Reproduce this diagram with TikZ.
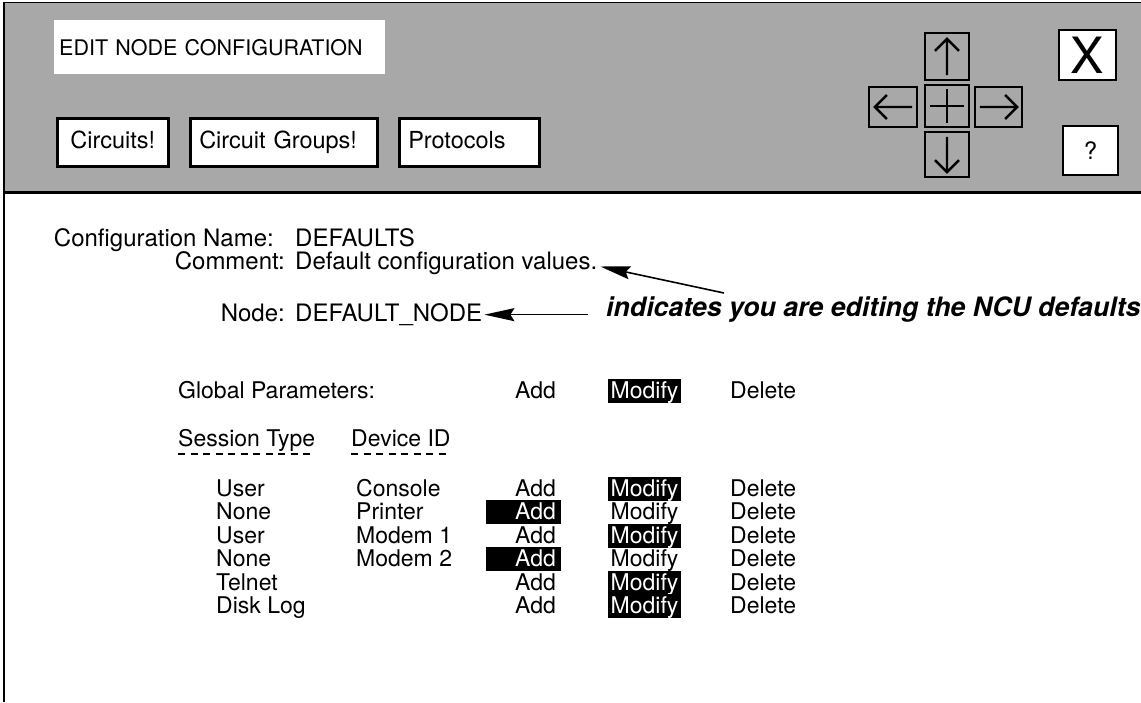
\documentclass[tikz,border=0pt]{standalone}
\usepackage{fontspec}
\setmainfont{TeX Gyre Heros}
\usetikzlibrary{arrows.meta}
\definecolor{panelgray}{RGB}{168,168,168}
\newcommand\ttlfont{\fontsize{21.5pt}{21.5pt}\selectfont}
\newcommand\btnfont{\fontsize{23.5pt}{23.5pt}\selectfont}
\newcommand\cfgfont{\fontsize{24pt}{24pt}\selectfont}
\newcommand\tblfont{\fontsize{23pt}{23pt}\selectfont}
\newcommand\notefont{\fontsize{26.7pt}{26.7pt}\selectfont\bfseries\itshape}
\begin{document}
\begin{tikzpicture}[x=1pt,y=-1pt,
  btn/.style={draw, line width=2.5pt, fill=white, anchor=north west,
    inner ysep=0pt, inner xsep=9pt, minimum height=48pt, align=left,
    text height=17pt, text depth=5pt, font=\btnfont},
  navbox/.style={draw, line width=2.2pt, inner sep=0pt},
  navmark/.style={line width=2.4pt},
  lbl/.style={anchor=base east, inner sep=0pt, font=\cfgfont},
  val/.style={anchor=base west, inner sep=0pt, font=\cfgfont},
  cell/.style={anchor=base west, inner xsep=0pt, inner ysep=2pt,
    text height=17.5pt, text depth=2.5pt, font=\tblfont},
  addcell/.style={cell, anchor=base east, text width=65pt, align=right, inner xsep=5pt},
  modcell/.style={cell, inner xsep=2.5pt},
  hl/.style={fill=black, text=white},
  ptr/.style={line width=1.6pt, -{Stealth[length=30pt,width=13pt,inset=4pt]}},
  dashrule/.style={line width=1.3pt, dash pattern=on 7pt off 5.5pt}
]
\useasboundingbox (0,0) rectangle (1141,702);

% header panel
\fill[panelgray] (4,2) rectangle (1141,192);
\draw[line width=1pt] (4,2) -- (1141,2);
\draw[line width=3pt] (4,192) -- (1141,192);
\draw[line width=1.5pt] (4,2) -- (4,702);

% window title
\node[fill=white, anchor=north west, minimum width=331pt, minimum height=54pt,
  inner xsep=5pt, text width=321pt, align=left, font=\ttlfont] (title) at (54,20)
  {EDIT NODE CONFIGURATION};

% menu buttons
\node[btn, text width=93pt, align=center] (circ) at (56,117) {Circuits!};
\node[btn, text width=169pt] (cgrp) at (189,117) {Circuit Groups!};
\node[btn, text width=122pt] (prot) at (398,117) {Protocols};

% navigation pad
\node[navbox, minimum width=44pt, minimum height=47pt] (up) at (947,56.5) {};
\node[navbox, minimum width=44pt, minimum height=42pt] (ctr) at (947,106) {};
\node[navbox, minimum width=48pt, minimum height=40pt] (lft) at (893,107) {};
\node[navbox, minimum width=47pt, minimum height=40pt] (rgt) at (998.5,107) {};
\node[navbox, minimum width=44pt, minimum height=45pt] (dwn) at (947,154.5) {};

\draw[navmark] ([yshift=6pt]up.south) -- ([yshift=-7pt]up.north)
  ++(-12,12) -- ++(12,-12) -- ++(12,12);
\draw[navmark] ([yshift=-6pt]dwn.north) -- ([yshift=6pt]dwn.south)
  ++(-12,-12) -- ++(12,12) -- ++(12,-12);
\draw[navmark] ([xshift=-6pt]lft.east) -- ([xshift=7pt]lft.west)
  ++(12,-12) -- ++(-12,12) -- ++(12,12);
\draw[navmark] ([xshift=6pt]rgt.west) -- ([xshift=-6pt]rgt.east)
  ++(-12,-12) -- ++(12,12) -- ++(-12,12);
\draw[line width=2pt] ([xshift=6pt]ctr.west) -- ([xshift=-6pt]ctr.east);
\draw[line width=2pt] ([yshift=-5pt]ctr.north) -- ([yshift=5pt]ctr.south);

% close and help buttons
\node[navbox, line width=2.5pt, fill=white, minimum width=57pt, minimum height=50pt,
  font=\fontsize{50pt}{50pt}\selectfont] (close) at (1087.5,55) {X};
\node[navbox, line width=2.5pt, fill=white, minimum width=55pt, minimum height=49pt,
  font=\fontsize{24pt}{24pt}\selectfont] (help) at (1090.5,150.5) {?};

% configuration fields
\node[lbl] (cfglbl) at (274,246.5) {Configuration Name:};
\node[val] (cfgval) at (295,246.5) {DEFAULTS};
\node[lbl] (comlbl) at (285,269.5) {Comment:};
\node[val] (comval) at (295,269.5) {Default configuration values.};
\node[lbl] (nodelbl) at (285,321.5) {Node:};
\node[val] (nodeval) at (295,321.5) {DEFAULT\_NODE};

% annotation
\node[anchor=base west, inner sep=0pt, font=\notefont] (note) at (606,316.5)
  {indicates you are editing the NCU defaults};
\coordinate (tailA) at (724,293);
\coordinate (tailB) at (588,0);
\draw[ptr] (tailA) -- ([xshift=3pt,yshift=3pt]comval.base east);
\draw[ptr] (tailB |- nodeval.east) -- ([xshift=2pt]nodeval.east);

% global parameters
\node[cell] (glbl) at (178,398) {Global Parameters:};
\node[addcell] (gadd) at (561,398) {Add};
\node[modcell, hl] (gmod) at (608,398) {Modify};
\node[cell] (gdel) at (730,398) {Delete};

% column headings
\node[cell] (hsess) at (178,446) {Session Type};
\node[cell] (hdev) at (351,446) {Device ID};
\draw[dashrule] ([yshift=-8pt]hsess.base west) -- ([yshift=-8pt]hsess.base east);
\draw[dashrule] ([yshift=-8pt]hdev.base west) -- ([yshift=-8pt]hdev.base east);

% session table
\node[cell] (s1) at (216,496) {User};
\node[cell] (d1) at (356,496) {Console};
\node[addcell] (a1) at (561,496) {Add};
\node[modcell, hl] (m1) at (608,496) {Modify};
\node[cell] (x1) at (730,496) {Delete};

\node[cell] (s2) at (216,519.5) {None};
\node[cell] (d2) at (356,519.5) {Printer};
\node[addcell, hl] (a2) at (561,519.5) {Add};
\node[modcell] (m2) at (608,519.5) {Modify};
\node[cell] (x2) at (730,519.5) {Delete};

\node[cell] (s3) at (216,543) {User};
\node[cell] (d3) at (356,543) {Modem 1};
\node[addcell] (a3) at (561,543) {Add};
\node[modcell, hl] (m3) at (608,543) {Modify};
\node[cell] (x3) at (730,543) {Delete};

\node[cell] (s4) at (216,566.5) {None};
\node[cell] (d4) at (356,566.5) {Modem 2};
\node[addcell, hl] (a4) at (561,566.5) {Add};
\node[modcell] (m4) at (608,566.5) {Modify};
\node[cell] (x4) at (730,566.5) {Delete};

\node[cell] (s5) at (216,590) {Telnet};
\node[addcell] (a5) at (561,590) {Add};
\node[modcell, hl] (m5) at (608,590) {Modify};
\node[cell] (x5) at (730,590) {Delete};

\node[cell] (s6) at (216,613.5) {Disk Log};
\node[addcell] (a6) at (561,613.5) {Add};
\node[modcell, hl] (m6) at (608,613.5) {Modify};
\node[cell] (x6) at (730,613.5) {Delete};
\end{tikzpicture}
\end{document}
